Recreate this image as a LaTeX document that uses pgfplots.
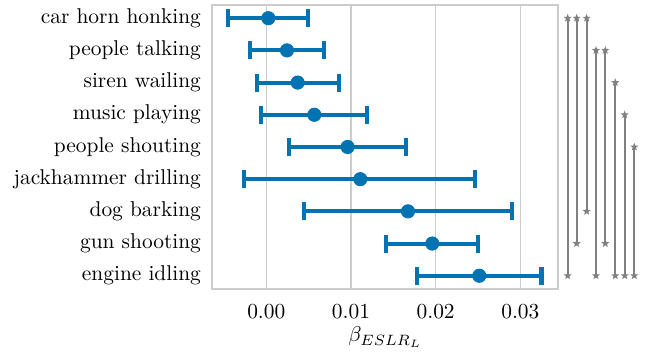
\documentclass[border=0pt]{standalone}
\usepackage{pgfplots}
\pgfplotsset{compat=1.18}
\usepackage{pgfplotstable}
\definecolor{cblue}{HTML}{0173B2}
\definecolor{sgray}{HTML}{808080}
\definecolor{gridgray}{HTML}{CCCCCC}

\pgfdeclareplotmark{fstar}{%
 \pgfpathmoveto{\pgfpointpolar{90}{\pgfplotmarksize}}%
 \pgfpathlineto{\pgfpointpolar{126}{0.42\pgfplotmarksize}}%
 \pgfpathlineto{\pgfpointpolar{162}{\pgfplotmarksize}}%
 \pgfpathlineto{\pgfpointpolar{198}{0.42\pgfplotmarksize}}%
 \pgfpathlineto{\pgfpointpolar{234}{\pgfplotmarksize}}%
 \pgfpathlineto{\pgfpointpolar{270}{0.42\pgfplotmarksize}}%
 \pgfpathlineto{\pgfpointpolar{306}{\pgfplotmarksize}}%
 \pgfpathlineto{\pgfpointpolar{342}{0.42\pgfplotmarksize}}%
 \pgfpathlineto{\pgfpointpolar{18}{\pgfplotmarksize}}%
 \pgfpathlineto{\pgfpointpolar{54}{0.42\pgfplotmarksize}}%
 \pgfpathclose
 \pgfusepathqfill}

\pgfplotstableread{
y xm ep em
0 0.00024 0.00465 0.00473
1 0.00244 0.00437 0.00436
2 0.00370 0.00488 0.00480
3 0.00567 0.00618 0.00630
4 0.00960 0.00690 0.00692
5 0.01110 0.01350 0.01377
6 0.01673 0.01227 0.01228
7 0.01960 0.00540 0.00547
8 0.02515 0.00735 0.00739
}\data

\begin{document}
\begin{tikzpicture}
\begin{axis}[
  scale only axis, width=161.7pt, height=132.7pt,
  xmin=-0.00638, xmax=0.03448, ymin=-0.41, ymax=8.41, y dir=reverse,
  ytick={0,...,8},
  yticklabels={car horn honking, people talking, siren wailing, music playing, people shouting, jackhammer drilling, dog barking, gun shooting, engine idling},
  yticklabel style={xshift=-1.8pt},
  xtick={0,0.01,0.02,0.03},
  scaled x ticks=false,
  xticklabel style={yshift=-4pt, /pgf/number format/.cd, fixed, fixed zerofill, precision=2},
  xmajorgrids, grid style={gridgray, line width=0.7pt},
  axis line style={gridgray, line width=0.8pt},
  major tick length=0pt,
  xlabel={$\beta_{ESLR_L}$},
  xlabel style={yshift=3pt},
  clip=false,
]
\addplot[cblue, only marks, mark=*, mark size=3.1pt,
  error bars/.cd, x dir=both, x explicit,
  error bar style={line width=1.9pt, cblue},
  error mark options={rotate=90, line width=1.9pt, mark size=4.2pt, cblue}]
  table[x=xm, y=y, x error plus=ep, x error minus=em] {\data};

\pgfplotsset{brk/.style={sgray, line width=1pt, mark=fstar, mark size=2pt, mark options={fill=sgray}}}
\addplot[brk] coordinates {(0.03559,0) (0.03559,8)};
\addplot[brk] coordinates {(0.03665,0) (0.03665,7)};
\addplot[brk] coordinates {(0.03783,0) (0.03783,6)};
\addplot[brk] coordinates {(0.03893,1) (0.03893,8)};
\addplot[brk] coordinates {(0.04003,1) (0.04003,7)};
\addplot[brk] coordinates {(0.04121,2) (0.04121,8)};
\addplot[brk] coordinates {(0.04232,3) (0.04232,8)};
\addplot[brk] coordinates {(0.04346,4) (0.04346,8)};

\path (axis description cs:-0.6136,-0.2137) rectangle (axis description cs:1.2535,1.0176);
\end{axis}
\end{tikzpicture}
\end{document}
